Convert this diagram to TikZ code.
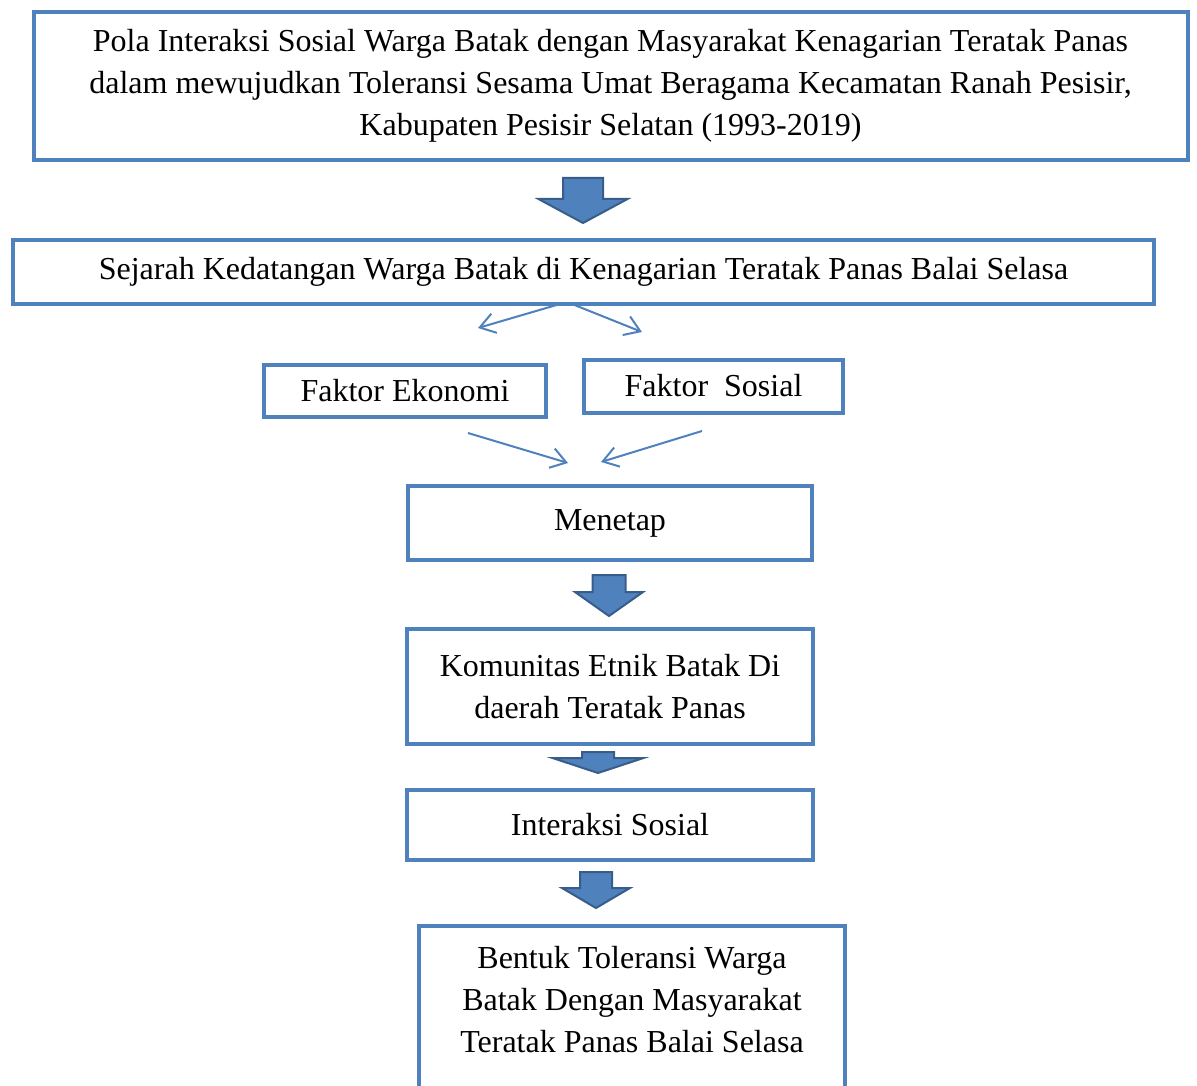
\documentclass[tikz,border=0pt]{standalone}
\usepackage{fontspec}
\setmainfont{Liberation Serif}
\usetikzlibrary{arrows.meta,positioning,calc}
\definecolor{biru}{HTML}{4F81BD}
\definecolor{birutua}{HTML}{385D8A}
% block arrow: x centre, top, half shaft, half head, head base, tip
\newcommand{\panahblok}[6]{%
  \draw[blok] (#1-#3,#2) -- (#1+#3,#2) -- (#1+#3,#5) -- (#1+#4,#5)
    -- (#1,#6) -- (#1-#4,#5) -- (#1-#3,#5) -- cycle;}

\begin{document}
\begin{tikzpicture}[
      x=1pt,y=-1pt,
      kotak/.style={draw=biru,line width=4pt,fill=white,inner sep=0pt,align=center,
        font=\fontsize{32}{42}\selectfont},
      panah/.style={draw=biru,line width=2pt,-{Straight Barb[length=15pt,width=20pt]}},
      blok/.style={fill=biru,draw=birutua,line width=2pt,line join=miter}
    ]
    \useasboundingbox (0,0) rectangle (1197,1086);
    \clip (0,0) rectangle (1197,1086);

    % the boxes
    \node[kotak,minimum width=1154pt,minimum height=148pt] (judul) at (610.5,86)
      {Pola Interaksi Sosial Warga Batak dengan Masyarakat Kenagarian Teratak Panas\\
       dalam mewujudkan Toleransi Sesama Umat Beragama Kecamatan Ranah Pesisir,\\
       Kabupaten Pesisir Selatan (1993-2019)};
    \node[kotak,minimum width=1141pt,minimum height=63pt] (sejarah) at (583.5,272)
      {Sejarah Kedatangan Warga Batak di Kenagarian Teratak Panas Balai Selasa};
    \node[kotak,minimum width=282pt,minimum height=52pt] (ekonomi) at (405,391) {Faktor Ekonomi};
    \node[kotak,minimum width=259pt,minimum height=53pt] (sosial) at (713.5,386) {Faktor\ \ Sosial};
    \node[kotak,minimum width=404pt,minimum height=74pt] (menetap) at (610,523) {Menetap};
    \node[kotak,minimum width=406pt,minimum height=115pt] (komunitas) at (610,686.5)
      {Komunitas Etnik Batak Di\\daerah Teratak Panas};
    \node[kotak,minimum width=406pt,minimum height=70pt] (interaksi) at (610,825) {Interaksi Sosial};
    \node[kotak,anchor=north,minimum width=426pt,text height=126pt,text depth=220pt] (bentuk) at (632,924)
      {Bentuk Toleransi Warga\\Batak Dengan Masyarakat\\Teratak Panas Balai Selasa};

    % the block arrows
    \panahblok{583}{178}{20}{44.5}{199}{223}
    \panahblok{609}{575}{16.5}{34}{592}{616}
    \panahblok{598}{752}{16}{45.5}{758}{773}
    \panahblok{596}{872}{16}{34}{888}{908}

    % the thin arrows
    \coordinate (pisahA) at (560,304);
    \coordinate (pisahB) at (572,304);
    \coordinate (ujungA) at (478,328);
    \coordinate (ujungB) at (642,332);
    \coordinate (dariA) at (468,433);
    \coordinate (dariB) at (702,431);
    \coordinate (masukA) at (568,463);
    \coordinate (masukB) at (601,462);
    \draw[panah] (pisahA) -- (ujungA);
    \draw[panah] (pisahB) -- (ujungB);
    \draw[panah] (dariA) -- (masukA);
    \draw[panah] (dariB) -- (masukB);
\end{tikzpicture}
\end{document}
